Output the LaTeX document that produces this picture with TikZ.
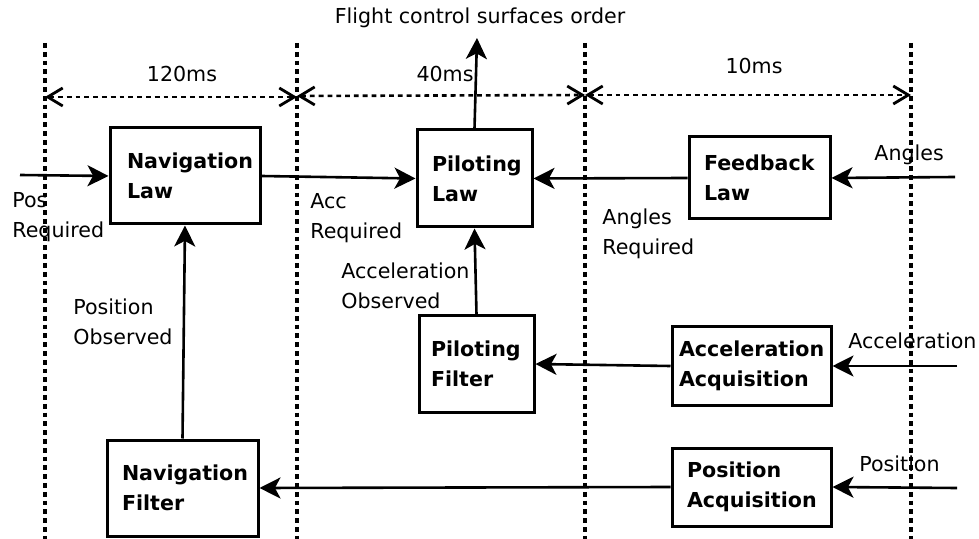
\documentclass[tikz,border=0pt]{standalone}
\usepackage{fontspec}
\setmainfont{DejaVu Sans}
\usetikzlibrary{arrows.meta}
\begin{document}
\begin{tikzpicture}[x=0.5pt,y=-0.5pt,
  every node/.style={font=\fontsize{10.3}{15}\selectfont},
  blk/.style n args={4}{draw, line width=1.5pt, inner xsep=0pt, inner ysep=0pt,
     align=left, text width=#1, minimum height=#2,
     execute at begin node={\leftskip=#3\relax},
     font=\fontsize{10.3}{15}\selectfont\bfseries},
  lbl/.style={inner sep=0pt, align=left, text width=150pt, anchor=base west},
  ttl/.style={inner sep=0pt, anchor=base},
  conn/.style={line width=1.3pt, -{Stealth[length=10.5pt,width=10.5pt,inset=2.8pt]}},
  sep/.style={line width=1.6pt, dash pattern=on 2.4pt off 2pt},
  span/.style={line width=1.3pt, dash pattern=on 2.4pt off 2pt,
     {Straight Barb[length=7.5pt,width=9pt,line width=1.4pt]}-{Straight Barb[length=7.5pt,width=9pt,line width=1.4pt]}}
]
\useasboundingbox (0,0) rectangle (979,539);

% time separators
\coordinate (s1t) at (45,43);  \coordinate (s1b) at (45,539);
\coordinate (s2t) at (297,43); \coordinate (s2b) at (297,539);
\coordinate (s3t) at (585,43); \coordinate (s3b) at (585,539);
\coordinate (s4t) at (911,43); \coordinate (s4b) at (911,539);
\draw[sep] (s1t) -- (s1b);
\draw[sep] (s2t) -- (s2b);
\draw[sep] (s3t) -- (s3b);
\draw[sep] (s4t) -- (s4b);

\coordinate (p1) at (45,97);
\coordinate (p2) at (297,97);
\coordinate (p2b) at (297,96);
\coordinate (p3) at (585,95);
\coordinate (p4) at (911,95);
\draw[span] (p1) -- (p2);
\draw[span] (p2b) -- (p3);
\draw[span] (p3) -- (p4);

\node[ttl] (t120) at (182,82) {120ms};
\node[ttl] (t40) at (445,82) {40ms};
\node[ttl] (t10) at (754,74) {10ms};
\node[ttl] (fcs) at (480,24) {Flight control surfaces order};

% blocks
\node[blk={75pt}{48pt}{8.5pt}] (navlaw) at (185,176) {Navigation\\Law};
\node[blk={57.5pt}{48.5pt}{7.5pt}] (pillaw) at (474.5,178.5) {Piloting\\Law};
\node[blk={70.5pt}{41pt}{7.5pt}] (fblaw) at (759.5,178) {Feedback\\Law};
\node[blk={57.5pt}{48pt}{6pt}] (pilfil) at (476.5,364) {Piloting\\Filter};
\node[blk={79.5pt}{39pt}{3.5pt}] (accacq) at (751.5,366) {Acceleration\\Acquisition};
\node[blk={79.5pt}{39pt}{7.5pt}] (posacq) at (751.5,487) {Position\\Acquisition};
\node[blk={75.5pt}{48pt}{7.5pt}] (navfil) at (182.5,488) {Navigation\\Filter};

% free ends
\coordinate (inpos) at (20,175);
\coordinate (inang) at (955,177);
\coordinate (inacc) at (957,366);
\coordinate (inposr) at (957,488);
\coordinate (out) at (477,38);

% connectors
\draw[conn] (inpos) -- (navlaw.west);
\draw[conn] (navlaw.east) -- (pillaw.west);
\draw[conn] (fblaw.west) -- (pillaw.east);
\draw[conn] (inang) -- (fblaw.east);
\draw[conn] (pillaw.north) -- (out);
\draw[conn] (pilfil.north) -- (pillaw.south);
\draw[conn] (accacq.west) -- (pilfil.east);
\draw[conn] (inacc) -- (accacq.east);
\draw[conn] (navfil.north) -- (navlaw.south);
\draw[conn] (posacq.west) -- (navfil.east);
\draw[conn] (inposr) -- (posacq.east);

% labels
\node[lbl] (lpos) at (12,208) {Pos\\Required};
\node[lbl] (lacc) at (310,209) {Acc\\Required};
\node[lbl] (langreq) at (602,225) {Angles\\Required};
\node[lbl] (lang) at (874,161) {Angles};
\node[lbl] (laccobs) at (341,279) {Acceleration\\Observed};
\node[lbl] (lposobs) at (73,315) {Position\\Observed};
\node[lbl] (laccin) at (848,349) {Acceleration};
\node[lbl] (lposin) at (859,471) {Position};
\end{tikzpicture}
\end{document}
